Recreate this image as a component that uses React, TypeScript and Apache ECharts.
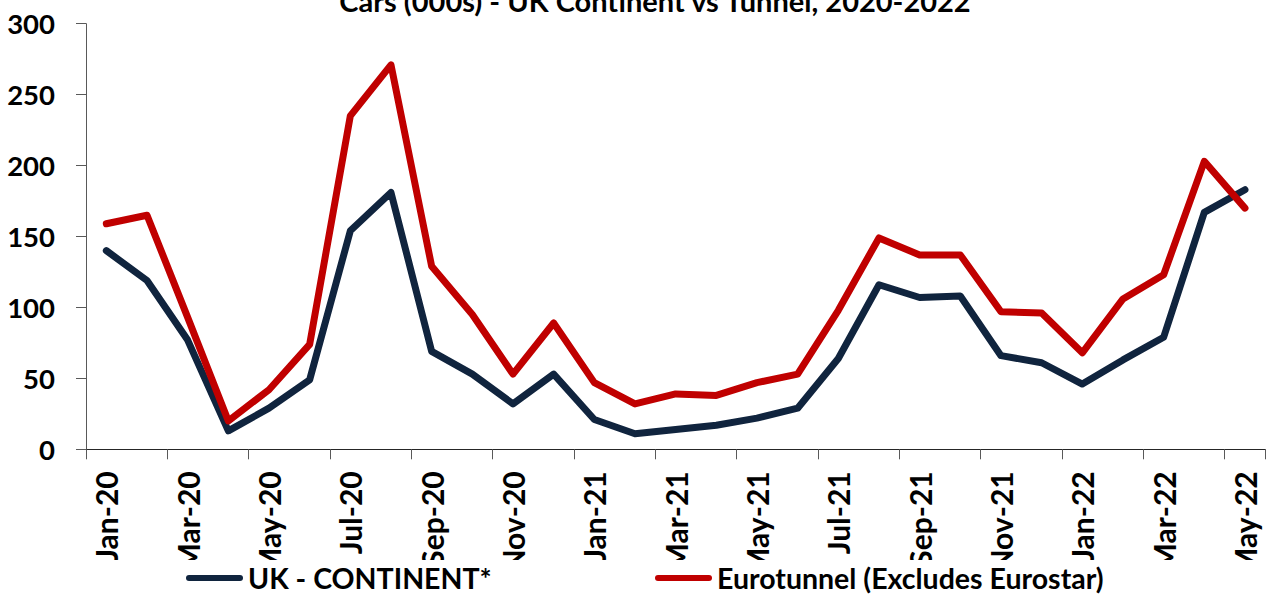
import React, { useEffect, useRef } from "react";
import * as echarts from "echarts";

const categories = [
  "Jan-20", "Feb-20", "Mar-20", "Apr-20", "May-20", "Jun-20", "Jul-20", "Aug-20", "Sep-20", "Oct-20", "Nov-20", "Dec-20",
  "Jan-21", "Feb-21", "Mar-21", "Apr-21", "May-21", "Jun-21", "Jul-21", "Aug-21", "Sep-21", "Oct-21", "Nov-21", "Dec-21",
  "Jan-22", "Feb-22", "Mar-22", "Apr-22", "May-22",
];

const ukContinent = [
  140, 119, 77, 13, 29, 49, 154, 181, 69, 53, 32, 53,
  21, 11, 14, 17, 22, 29, 64, 116, 107, 108, 66, 61,
  46, 63, 79, 167, 183,
];

const eurotunnel = [
  159, 165, 93, 20, 42, 74, 235, 271, 129, 95, 53, 89,
  47, 32, 39, 38, 47, 53, 98, 149, 137, 137, 97, 96,
  68, 106, 123, 203, 170,
];

const seriesNames = ["UK - CONTINENT*", "Eurotunnel (Excludes Eurostar)"];
const titleText = "Cars (000s) - UK Continent vs Tunnel, 2020-2022";

const NAVY = "#10243e";
const RED = "#c00000";
const FONT = "Lato";

export default function App() {
  const ref = useRef<HTMLDivElement>(null);

  useEffect(() => {
    if (!ref.current) return;
    const chart = echarts.init(ref.current, undefined, { renderer: "svg" });
    const legendBase = {
      orient: "horizontal",
      itemWidth: 57,
      itemHeight: 7,
      top: 563,
      padding: 0,
      z: 10,
      icon: "path://M3,0 H54 A3,3 0 0 1 54,6 H3 A3,3 0 0 1 3,0 Z",
      textStyle: {
        fontFamily: FONT,
        fontWeight: "bold",
        fontSize: 28.5,
        color: "#000",
        lineHeight: 24,
        padding: [0, 0, 6, 0],
      },
    };
    chart.setOption({
      animation: false,
      backgroundColor: "#fff",
      grid: { left: 86, right: 1.7, top: 23.7, bottom: 144.7 },
      legend: [
        { ...legendBase, left: 186, data: [seriesNames[0]] },
        { ...legendBase, left: 655, data: [seriesNames[1]] },
      ],
      xAxis: {
        type: "category",
        data: categories,
        boundaryGap: true,
        axisLine: { show: true, lineStyle: { color: "#262626", width: 1 } },
        axisTick: { show: true, interval: 1, length: 10, alignWithLabel: false, lineStyle: { color: "#595959" } },
        axisLabel: {
          interval: 1,
          rotate: 90,
          margin: 22,
          fontFamily: FONT,
          fontWeight: "bold",
          fontSize: 30,
          color: "#000",
        },
        splitLine: { show: false },
      },
      yAxis: {
        type: "value",
        min: 0,
        max: 300,
        interval: 50,
        axisLine: { show: true, lineStyle: { color: "#595959", width: 1 } },
        axisTick: { show: true, length: 10, lineStyle: { color: "#595959" } },
        axisLabel: {
          margin: 31,
          fontFamily: FONT,
          fontWeight: "bold",
          fontSize: 27.5,
          color: "#000",
        },
        splitLine: { show: false },
      },
      series: [
        {
          name: seriesNames[0],
          type: "line",
          data: ukContinent,
          showSymbol: false,
          symbol: "none",
          itemStyle: { color: NAVY },
          lineStyle: { color: NAVY, width: 7, cap: "round", join: "round" },
        },
        {
          name: seriesNames[1],
          type: "line",
          data: eurotunnel,
          showSymbol: false,
          symbol: "none",
          itemStyle: { color: RED },
          lineStyle: { color: RED, width: 7, cap: "round", join: "round" },
        },
      ],
      graphic: [
        {
          type: "rect",
          z: 5,
          shape: { x: 0, y: 560, width: 1267, height: 34 },
          style: { fill: "#fff" },
          silent: true,
        },
        {
          type: "text",
          z: 100,
          x: 655,
          y: 0,
          style: {
            text: titleText,
            fontFamily: FONT,
            fontWeight: "bold",
            fontSize: 29,
            fill: "#000",
            align: "center",
            verticalAlign: "middle",
          },
        },
      ],
    });
    return () => chart.dispose();
  }, []);

  return (
    <div
      ref={ref}
      style={{ position: "fixed", left: 0, top: 0, width: 1267, height: 594, background: "#fff" }}
    />
  );
}
